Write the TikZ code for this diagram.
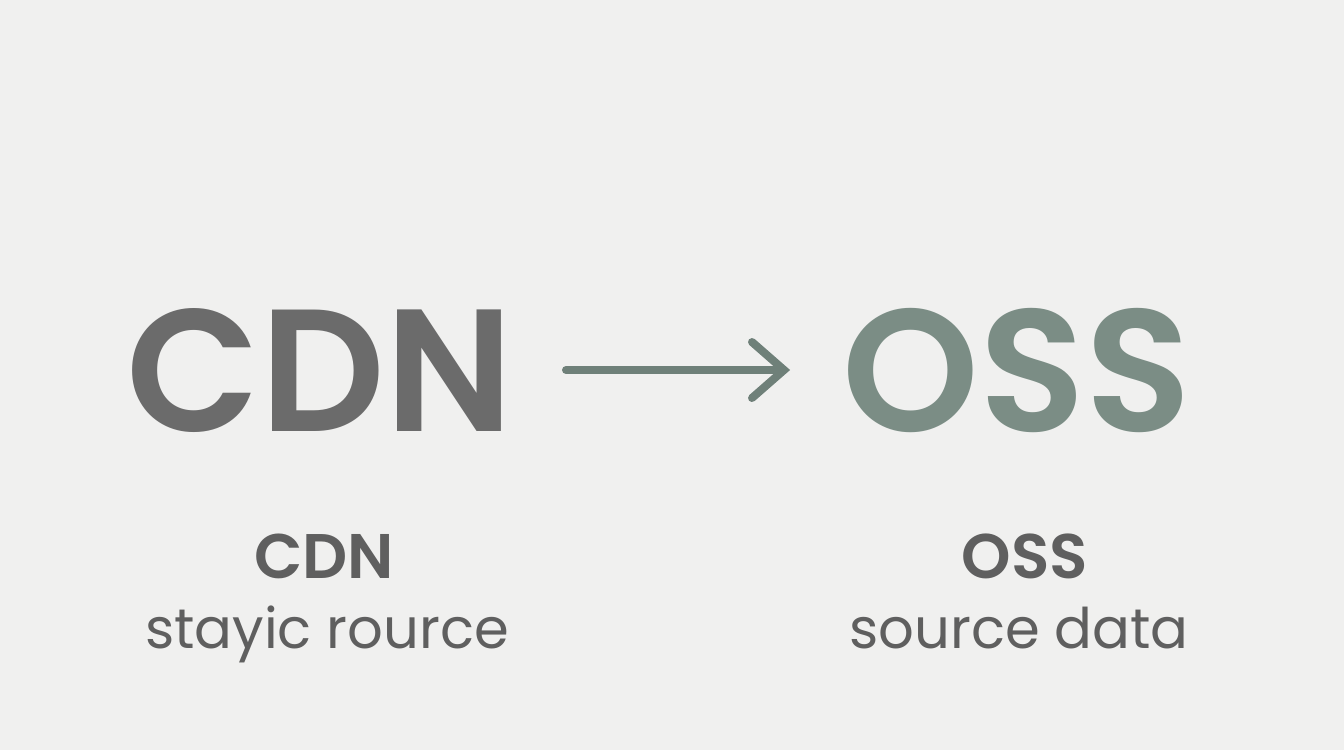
\documentclass[tikz,border=0pt]{standalone}
\usepackage{fontspec}
\usetikzlibrary{calc}
\setmainfont{Poppins}
\newfontfamily\popbold{Poppins}[UprightFont=* SemiBold]
\definecolor{bgc}{HTML}{F0F0EF}
\definecolor{cdngray}{HTML}{6B6B6B}
\definecolor{ossgreen}{HTML}{7B8D85}
\definecolor{arrowc}{HTML}{6F8079}
\definecolor{labgray}{HTML}{5F5F5F}
\tikzset{
  bigtxt/.style={anchor=base, inner sep=0pt, font=\popbold\fontsize{174}{174}\selectfont},
  headtxt/.style={anchor=base, inner sep=0pt, font=\popbold\fontsize{63}{63}\selectfont, text=labgray},
  subtxt/.style={anchor=base, inner sep=0pt, font=\fontsize{56}{56}\selectfont, text=labgray},
  flow/.style={draw=arrowc, line width=8pt, line cap=round, line join=miter}
}
\begin{document}
\begin{tikzpicture}[x=1pt,y=-1pt]
\fill[bgc] (0,0) rectangle (1344,750);
\useasboundingbox (0,0) rectangle (1344,750);
\node[bigtxt, text=cdngray] (cdn) at (320,431) {CDN};
\node[bigtxt, text=ossgreen] (oss) at (1017,431) {OSS};
\coordinate (a1) at (566,370);
\coordinate (a2) at (784,370);
\draw[flow] (a1) -- (a2);
\draw[flow] ($(a2)+(-32,-28)$) -- (a2) -- ($(a2)+(-32,28)$);
\node[headtxt] (cdnh) at (324,578) {CDN};
\node[subtxt] (cdns) at (327,648) {stayic rource};
\node[headtxt] (ossh) at (1025,578) {OSS};
\node[subtxt] (osss) at (1019,648) {source data};
\end{tikzpicture}
\end{document}
